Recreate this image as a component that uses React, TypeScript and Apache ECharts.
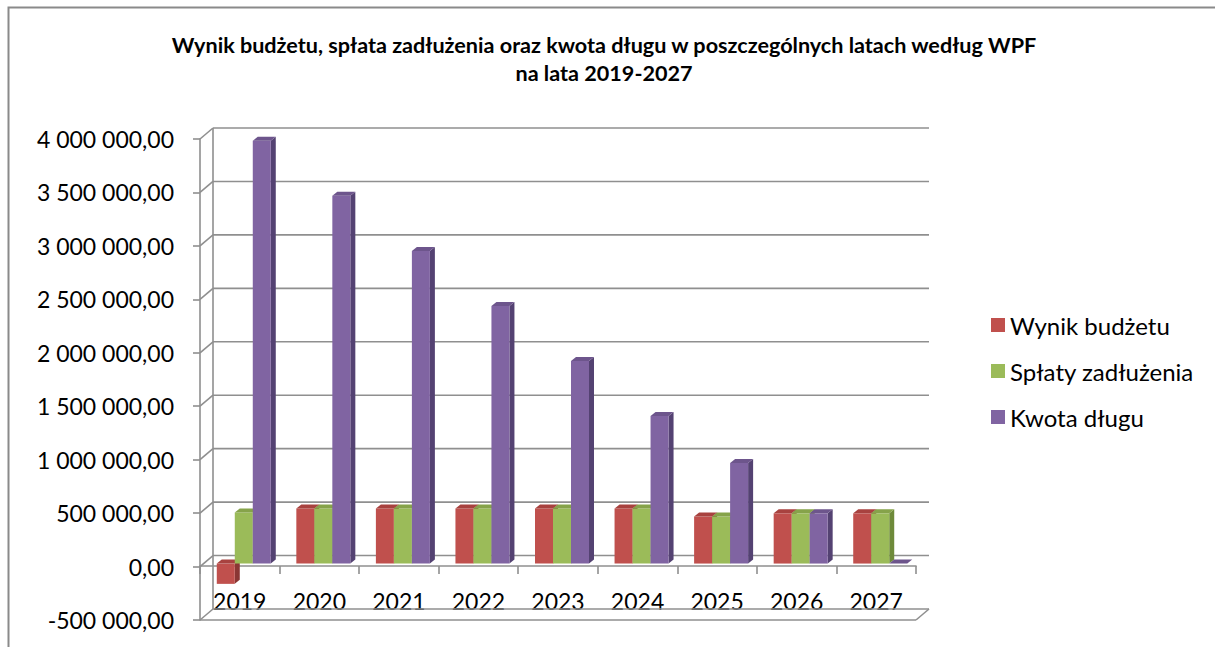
import React, { useEffect, useRef } from "react";
import * as echarts from "echarts";

const titleLines = [
  "Wynik budżetu, spłata zadłużenia oraz kwota długu w poszczególnych latach według WPF",
  "na lata 2019-2027",
];
const categories = ["2019", "2020", "2021", "2022", "2023", "2024", "2025", "2026", "2027"];
const seriesNames = ["Wynik budżetu", "Spłaty zadłużenia", "Kwota długu"];
const wynik = [-190000, 515000, 515000, 515000, 515000, 515000, 440000, 470000, 470000];
const splaty = [478000, 515000, 515000, 515000, 515000, 515000, 440000, 470000, 470000];
const kwota = [3955000, 3440000, 2925000, 2410000, 1895000, 1380000, 940000, 470000, 0];
const yTicks = [-500000, 0, 500000, 1000000, 1500000, 2000000, 2500000, 3000000, 3500000, 4000000];

const palette = [
  { front: "#C0504D", side: "#8A3634", top: "#A8423F" },
  { front: "#9BBB59", side: "#6E8A3A", top: "#86A34A" },
  { front: "#8064A2", side: "#544272", top: "#6D558C" },
];

const FONT = "Lato, 'Open Sans', sans-serif";
const GRID_COLOR = "#8f8f8f";
const BACK_DX = 13;
const BACK_DY = -11;
const BAR_DX = 5;
const BAR_DY = -4;
const BAR_W = 18;

const fmt = (v: number) => {
  const s = Math.abs(v)
    .toFixed(0)
    .replace(/\B(?=(\d{3})+(?!\d))/g, " ");
  return (v < 0 ? "-" : "") + s + ",00";
};

export default function App() {
  const ref = useRef<HTMLDivElement>(null);
  useEffect(() => {
    document.body.style.margin = "0";
    const chart = echarts.init(ref.current!, undefined, { renderer: "svg" });
    const yMin = yTicks[0];
    const yMax = yTicks[yTicks.length - 1];
    const dataSets = [wynik, splaty, kwota];

    const barSeries = dataSets.map((arr, si) => ({
      type: "custom",
      name: seriesNames[si],
      xAxisIndex: 1,
      yAxisIndex: 1,
      z: 3,
      itemStyle: { color: palette[si].front },
      data: arr.map((v, i) => [i, v]),
      renderItem: (params: any, api: any) => {
        const idx = api.value(0);
        const v = api.value(1);
        const c = api.coord([idx, 0]);
        const t = api.coord([idx, v]);
        const x0 = c[0] - (BAR_W * 3) / 2 + si * BAR_W;
        const x1 = x0 + BAR_W;
        const yTop = Math.min(c[1], t[1]);
        const yBot = Math.max(c[1], t[1]);
        const col = palette[si];
        const children: any[] = [];
        if (yBot - yTop > 0.5) {
          children.push({
            type: "polygon",
            shape: { points: [[x1, yTop], [x1 + BAR_DX, yTop + BAR_DY], [x1 + BAR_DX, yBot + BAR_DY], [x1, yBot]] },
            style: { fill: col.side },
          });
          children.push({
            type: "rect",
            shape: { x: x0, y: yTop, width: BAR_W, height: yBot - yTop },
            style: { fill: col.front },
          });
        }
        children.push({
          type: "polygon",
          shape: { points: [[x0, yTop], [x0 + BAR_DX, yTop + BAR_DY], [x1 + BAR_DX, yTop + BAR_DY], [x1, yTop]] },
          style: { fill: col.top },
        });
        return { type: "group", children };
      },
    }));

    const frameSeries = {
      type: "custom",
      name: "frame",
      xAxisIndex: 0,
      yAxisIndex: 0,
      z: 1,
      silent: true,
      data: yTicks.map((v) => [0, v]),
      renderItem: (params: any, api: any) => {
        const cs = params.coordSys;
        const L = cs.x;
        const R = cs.x + cs.width;
        const v = api.value(1);
        const y = api.coord([0, v])[1];
        const ls = { stroke: GRID_COLOR, lineWidth: 1.6, fill: null };
        const children: any[] = [
          { type: "line", shape: { x1: L, y1: y, x2: L + BACK_DX, y2: y + BACK_DY }, style: ls },
          { type: "line", shape: { x1: L + BACK_DX, y1: y + BACK_DY, x2: R + BACK_DX, y2: y + BACK_DY }, style: ls },
        ];
        if (v === yMin) {
          const yT = api.coord([0, yMax])[1];
          children.push(
            { type: "line", shape: { x1: L + BACK_DX, y1: yT + BACK_DY, x2: L + BACK_DX, y2: y + BACK_DY }, style: ls },
            { type: "line", shape: { x1: L, y1: y, x2: R, y2: y }, style: ls },
            { type: "line", shape: { x1: R, y1: y, x2: R + BACK_DX, y2: y + BACK_DY }, style: ls }
          );
        }
        return { type: "group", children };
      },
    };

    const option: any = {
      animation: false,
      color: palette.map((p) => p.front),
      grid: [
        { left: 200, top: 139, width: 716, bottom: 27, containLabel: false, outerBoundsMode: "none" },
        { left: 204, top: 136, width: 716, bottom: 30, containLabel: false, outerBoundsMode: "none" },
        { left: 200, top: 139, width: 716, bottom: 81, containLabel: false, outerBoundsMode: "none" },
      ],
      xAxis: [
        {
          type: "category",
          gridIndex: 0,
          data: categories,
          axisLine: { show: false },
          axisTick: { show: false },
          axisLabel: { show: false },
        },
        {
          type: "category",
          gridIndex: 1,
          data: categories,
          show: false,
        },
        {
          type: "category",
          gridIndex: 2,
          data: categories,
          axisLine: { show: true, onZero: false, lineStyle: { color: GRID_COLOR, width: 1.6 } },
          axisTick: { show: true, length: 8, lineStyle: { color: GRID_COLOR, width: 1.6 } },
          axisLabel: { fontSize: 23, fontFamily: FONT, color: "#000", margin: 23 },
        },
      ],
      yAxis: [
        {
          type: "value",
          gridIndex: 0,
          min: yMin,
          max: yMax,
          interval: 500000,
          axisLine: { show: true, lineStyle: { color: GRID_COLOR, width: 1.6 } },
          axisTick: { show: true, length: 7, lineStyle: { color: GRID_COLOR, width: 1.6 } },
          splitLine: { show: false },
          axisLabel: { fontSize: 23, fontFamily: FONT, color: "#000", margin: 26, formatter: (v: number) => fmt(v) },
        },
        {
          type: "value",
          gridIndex: 1,
          min: yMin,
          max: yMax,
          interval: 500000,
          show: false,
        },
        {
          type: "value",
          gridIndex: 2,
          min: 0,
          max: yMax,
          show: false,
        },
      ],
      legend: {
        orient: "vertical",
        left: 986,
        top: 308,
        itemWidth: 14,
        itemHeight: 14,
        itemGap: 22,
        icon: "rect",
        data: seriesNames,
        textStyle: { fontSize: 24, fontFamily: FONT, color: "#000" },
      },
      graphic: [
        {
          type: "polyline",
          shape: { points: [[8.5, 647], [8.5, 7.5], [1215, 7.5]] },
          style: { stroke: "#8a8a8a", lineWidth: 2, fill: null },
          z: 0,
        },
        {
          type: "text",
          x: 604,
          y: 45,
          style: { text: titleLines[0], fontSize: 21.6, fontWeight: "bold", fontFamily: FONT, fill: "#000", textAlign: "center", textVerticalAlign: "middle" },
        },
        {
          type: "text",
          x: 604,
          y: 73,
          style: { text: titleLines[1], fontSize: 21.6, fontWeight: "bold", fontFamily: FONT, fill: "#000", textAlign: "center", textVerticalAlign: "middle" },
        },
      ],
      series: [frameSeries, ...barSeries],
    };
    chart.setOption(option);
    return () => chart.dispose();
  }, []);
  return <div ref={ref} style={{ width: 1215, height: 647 }} />;
}
